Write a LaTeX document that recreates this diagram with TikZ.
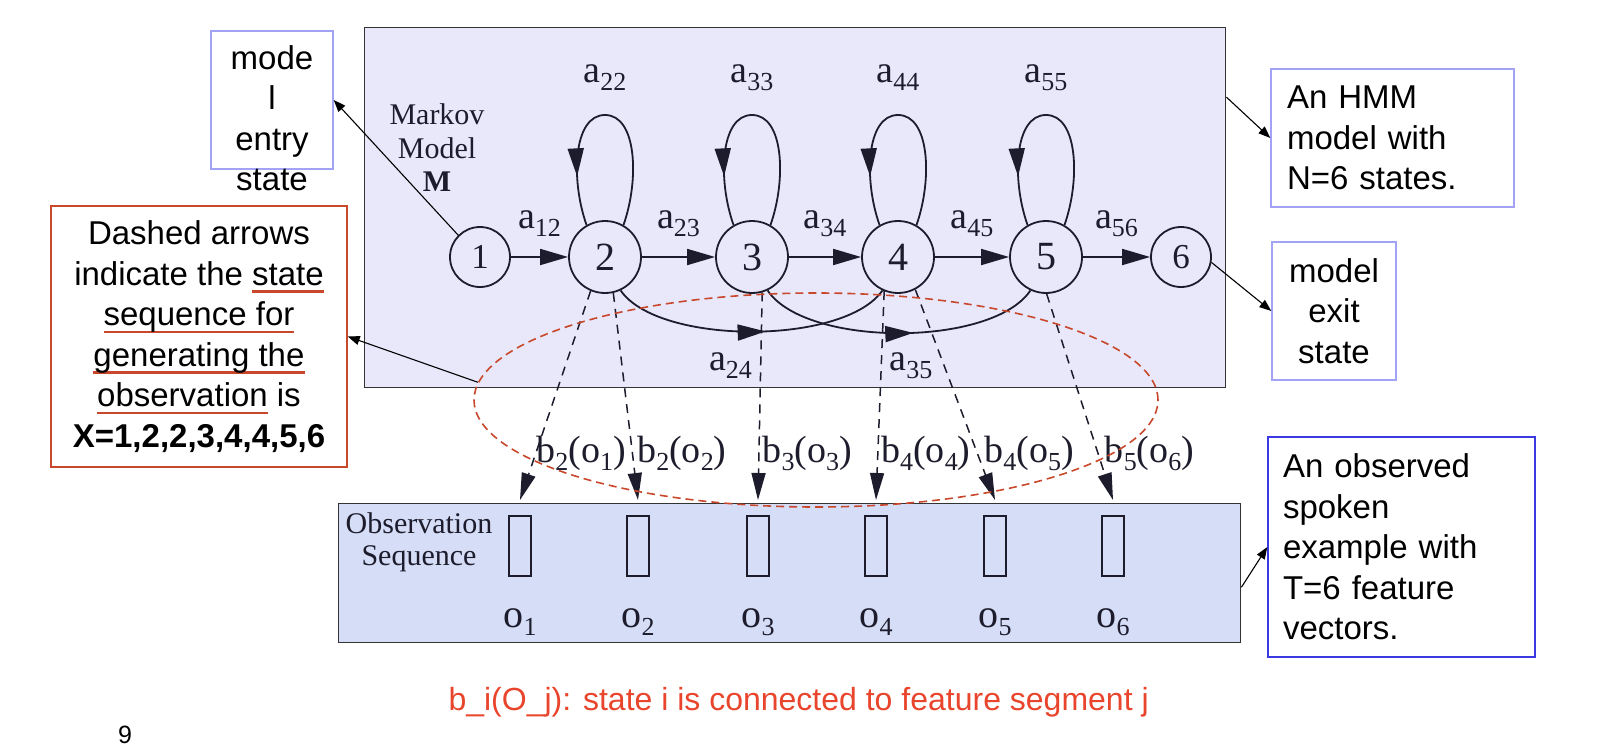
\documentclass[tikz,border=0pt]{standalone}
\usepackage{fontspec}
\setmainfont{Liberation Sans}
\newfontfamily\tms{Liberation Serif}
\usepackage{tikz}
\usetikzlibrary{calc,positioning,arrows.meta,decorations.markings,shapes.geometric}
\definecolor{colorbox}{HTML}{E8E8FA}
\definecolor{colorobs}{HTML}{D6DDF7}
\definecolor{colorln}{HTML}{1C1C2C}
\definecolor{colorrd}{HTML}{C9472B}
\definecolor{colorft}{HTML}{E8452C}
\definecolor{colornt}{HTML}{A3A3F5}
\definecolor{colorob}{HTML}{3A3AE0}
\tikzset{
  state/.style={circle, draw=colorln, text=colorln, line width=1.8pt, minimum size=72pt, inner sep=0pt, font=\tms\fontsize{40}{40}\selectfont},
  endstate/.style={state, minimum size=60pt, font=\tms\fontsize{35}{35}\selectfont},
  lab/.style={inner sep=0pt, text=colorln, font=\tms\fontsize{38}{38}\selectfont},
  frame/.style={draw=black!80, line width=1.4pt, inner sep=0pt, anchor=north west},
  vec/.style={draw=colorln, line width=1.6pt, minimum width=22pt, minimum height=60pt, inner sep=0pt},
  note/.style={draw=colornt, line width=1.4pt, inner sep=0pt, font=\fontsize{33}{40.5}\selectfont},
  edgetr/.style={colorln, line width=1.8pt, -{Triangle[length=28pt,width=16pt]}},
  edgeob/.style={colorln, line width=1.5pt, dash pattern=on 9pt off 7pt, -{Triangle[length=27pt,width=14pt]}},
  edgemid/.style={colorln, line width=1.8pt, decoration={markings, mark=at position #1 with {\arrow{Triangle[length=28pt,width=16pt]}}}, postaction={decorate}},
  edgemid/.default=0.55,
  edgent/.style={black, line width=1.1pt, -{Triangle[length=12pt,width=9pt]}}
}
\newcommand\lsub[1]{\raisebox{-8pt}{\fontsize{26}{26}\selectfont#1}}
\newcommand\redul[1]{\setbox0\hbox{#1}\rlap{\color{colorrd}\rule[-7.5pt]{\wd0}{2.6pt}}\box0\relax}

\begin{document}
\begin{tikzpicture}[x=1pt,y=-1pt]
\useasboundingbox (0,0) rectangle (1600,752);

\node[frame, fill=colorbox, minimum width=861pt, minimum height=360pt] (model) at (364,27) {};
\node[frame, fill=colorobs, minimum width=902pt, minimum height=139pt] (obs) at (338,503) {};

\node[lab, align=center, font=\tms\fontsize{30}{33.5}\selectfont] (mm) at (437,148)
{Markov\\Model\\\textbf{M}};
\node[lab, align=center, font=\tms\fontsize{30}{32}\selectfont] (os) at (419,542)
{Observation\\Sequence};

\node[endstate] (s1) at (480,257) {1};
\node[state] (s2) at (605,257) {2};
\node[state] (s3) at (752,257) {3};
\node[state] (s4) at (898,257) {4};
\node[state] (s5) at (1046,257) {5};
\node[endstate] (s6) at (1181,257) {6};

\foreach \i/\j in {1/2,2/3,3/4,4/5,5/6}
  \draw[edgetr] (s\i) -- node[lab, anchor=base, yshift=29pt] {a\lsub{\i\j}} (s\j);

\foreach \i in {2,...,5} {
  \draw[edgemid=0.8] (s\i.60) .. controls +(16,-45) and +(32,0) .. ($(s\i)+(0,-142)$)
    .. controls +(-32,0) and +(-16,-45) .. (s\i.120);
  \node[lab, anchor=base] (l\i) at ($(s\i)+(0,-175)$) {a\lsub{\i\i}};
}

\draw[edgemid=0.55] (s2.295) .. controls +(38,55) and +(-38,55) .. node[lab, anchor=base, xshift=-21pt, yshift=-39pt] {a\lsub{24}} (s4.245);
\draw[edgemid=0.55] (s3.295) .. controls +(38,57) and +(-38,57) .. node[lab, anchor=base, xshift=12pt, yshift=-37pt] {a\lsub{35}} (s5.245);

\foreach \x [count=\k] in {520,638,758,876,995,1113} {
  \node[vec] (r\k) at (\x,546) {};
  \node[lab, anchor=base, font=\tms\fontsize{40}{40}\selectfont] (o\k) at (\x,627) {o\lsub{\k}};
  \coordinate (t\k) at (\x,500);
}

\foreach \s/\a/\k in {2/247/1,2/283/2,3/286/3,4/248/4,4/298/5,5/271/6}
  \draw[edgeob] (s\s.\a) -- node[lab, pos=0.82, anchor=base west, inner sep=3pt] {b\lsub{\s}(o\lsub{\k})} (t\k);

\node[ellipse, draw=colorrd, line width=1.6pt, dash pattern=on 8pt off 5pt, minimum width=684pt, minimum height=214pt, inner sep=0pt] (seq) at (816,400) {};

\node[note, minimum width=122pt, minimum height=138pt] (entry) at (272,100) {};
\node[note, draw=none, align=center] (entrytxt) at (272,118) {mode\\l\\entry\\state};

\node[note, draw=colorrd, align=center, minimum width=296pt, minimum height=261pt] (dash) at (199,336.5)
{Dashed arrows\\indicate the \redul{state}\\\redul{sequence for}\\\redul{generating the}\\\redul{observation} is\\\textbf{X=1,2,2,3,4,4,5,6}};

\node[note, align=left, text width=211pt, inner xsep=16pt, minimum height=138pt] (hmm) at (1392.5,138)
{An HMM\\model with\\N=6 states.};
\node[note, align=center, minimum width=124pt, minimum height=138pt] (exit) at (1334,311)
{model\\exit\\state};
\node[note, draw=colorob, align=left, text width=237pt, inner xsep=15pt, minimum height=220pt] (seen) at (1401.5,547)
{An observed\\spoken\\example with\\T=6 feature\\vectors.};

\coordinate (mr) at ($(model.north east)!0.194!(model.south east)$);
\coordinate (or) at ($(obs.north east)!0.6!(obs.south east)$);

\draw[edgent] (s1.135) -- (entry.east);
\draw[edgent] (mr) -- (hmm.west);
\draw[edgent] (s6.-10) -- (exit.west);
\draw[edgent] (or) -- (seen.west);
\draw[edgent] (seq.177) -- (dash.east);

\node[anchor=base west, text=colorft, font=\fontsize{32}{32}\selectfont] (foot) at (445,710)
{b\_i(O\_j): state i is connected to feature segment j};
\node[font=\fontsize{25}{25}\selectfont] (pg) at (125,735) {9};
\end{tikzpicture}
\end{document}
